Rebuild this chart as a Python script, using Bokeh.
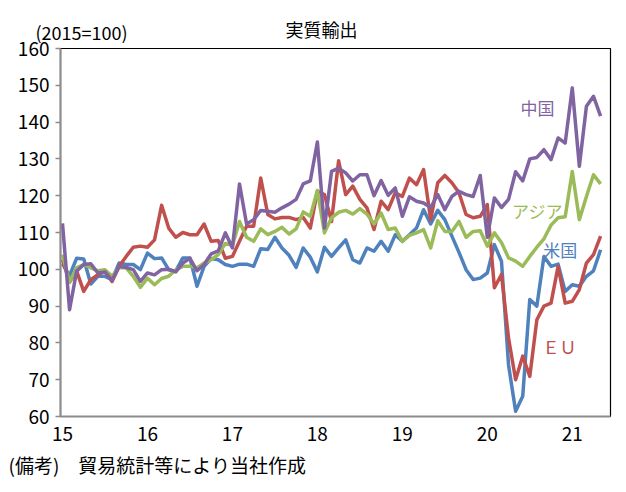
from bokeh.plotting import figure
from bokeh.layouts import column
from bokeh.models import Range1d, FixedTicker, Label
from bokeh.core.properties import value
from bokeh.embed import file_html
from bokeh.resources import INLINE

# Real exports index (2015 = 100), monthly, Jan 2015 - May 2021
year_labels = ["15", "16", "17", "18", "19", "20", "21"]

china = [112.5, 89.0, 99.5, 101.3, 101.5, 99.0, 99.3, 97.0, 100.8, 100.5, 99.9, 96.7,
         99.0, 98.5, 99.9, 100.0, 99.3, 101.7, 103.0, 99.6, 101.3, 104.2, 105.0, 109.9,
         105.8, 123.2, 112.3, 113.5, 116.0, 115.8, 115.5, 116.7, 117.7, 119.0, 123.2, 124.0,
         134.6, 111.2, 126.6, 127.5, 126.2, 124.0, 125.7, 125.7, 120.0, 124.1, 120.1, 122.1,
         114.4, 119.7, 118.5, 118.0, 116.8, 120.3, 116.2, 119.8, 121.2, 120.3, 119.8, 125.5,
         108.7, 119.4, 116.8, 119.0, 126.5, 124.0, 130.0, 130.4, 132.5, 129.8, 135.7, 134.3,
         149.3, 128.0, 144.3, 147.0, 141.6]

eu = [102.7, 96.5, 99.5, 94.0, 97.2, 98.5, 99.5, 96.7, 100.8, 103.5, 106.0, 106.3,
      106.0, 108.0, 117.4, 111.2, 108.7, 110.0, 109.4, 109.4, 112.3, 107.6, 107.8, 103.0,
      103.5, 107.6, 111.7, 111.7, 124.8, 114.9, 113.7, 114.1, 114.1, 113.5, 114.1, 111.2,
      121.2, 120.3, 113.0, 129.5, 120.3, 122.6, 119.0, 116.7, 110.8, 118.5, 116.2, 120.8,
      119.8, 124.8, 123.0, 127.1, 113.5, 123.5, 125.5, 123.5, 120.8, 114.9, 114.0, 114.4,
      117.6, 95.0, 98.6, 81.3, 70.0, 76.4, 70.9, 86.3, 90.0, 90.8, 100.8, 90.8,
      91.3, 94.5, 101.7, 104.0, 109.0]

us = [101.5, 98.3, 103.0, 102.8, 96.0, 98.1, 98.1, 97.2, 101.7, 101.3, 101.3, 99.9,
      104.4, 102.9, 103.1, 99.9, 99.5, 103.1, 103.1, 95.4, 100.8, 102.9, 102.6, 101.3,
      100.8, 101.4, 101.4, 100.8, 105.6, 105.4, 108.7, 105.8, 103.8, 100.5, 105.8, 103.3,
      99.3, 106.0, 103.5, 105.8, 108.0, 102.6, 101.7, 105.8, 104.9, 107.6, 104.9, 109.4,
      107.6, 109.4, 111.2, 116.2, 112.3, 116.0, 113.5, 109.0, 104.6, 99.9, 97.2, 97.6,
      99.0, 106.7, 102.2, 74.0, 61.4, 65.5, 91.8, 90.0, 103.5, 100.8, 101.4, 94.0,
      95.8, 95.4, 98.1, 99.6, 105.3]

asia = [104.0, 96.5, 100.4, 101.3, 100.4, 99.6, 99.9, 98.1, 100.5, 100.4, 98.1, 95.1,
        97.6, 95.8, 97.5, 98.1, 99.9, 100.8, 100.8, 100.4, 101.7, 102.6, 104.0, 107.0,
        106.5, 113.0, 108.7, 107.6, 111.0, 109.4, 110.3, 111.4, 109.6, 111.0, 115.6, 114.4,
        121.4, 109.9, 114.0, 115.5, 116.0, 115.0, 116.5, 115.0, 112.3, 115.3, 110.8, 111.2,
        107.6, 109.2, 109.9, 110.8, 105.8, 113.2, 110.3, 110.3, 113.0, 108.7, 110.3, 110.5,
        106.3, 109.9, 107.3, 103.1, 102.2, 100.8, 103.5, 106.0, 108.3, 112.0, 114.0, 114.3,
        126.6, 113.5, 119.8, 125.7, 123.2]

months = list(range(len(china)))

FONT = "Noto Sans CJK JP"
C_US = "#4F81BD"
C_EU = "#C0504D"
C_ASIA = "#9BBB59"
C_CHINA = "#8064A2"
AXIS_GREY = "#8c8c8c"
W = 626
HEAD_H = 48      # header strip
OVERLAP = 16     # the chart canvas starts this far inside the header (transparent there)
FOOT_H = 42


def text_strip(height):
    """A bare figure used only to carry header / footer text in pixel space."""
    f = figure(width=W, height=height, output_backend="svg", toolbar_location=None,
               x_range=Range1d(0, W), y_range=Range1d(0, height),
               x_axis_type=None, y_axis_type=None, min_border=0,
               frame_align=False)
    f.outline_line_color = None
    f.background_fill_color = "white"
    f.border_fill_color = "white"
    return f


# header: title and unit note (y measured upward from the strip's bottom)
head = text_strip(HEAD_H)
head.text(x=[321], y=[HEAD_H - 28], text=["実質輸出"], text_font=value(FONT),
          text_font_size="18px", text_align="center", text_baseline="middle",
          text_color="black")
head.text(x=[35], y=[HEAD_H - 31], text=["(2015=100)"], text_font=value(FONT),
          text_font_size="18px", text_align="left", text_baseline="middle",
          text_color="black")

# main chart: frame spans x 60..610, y 48..416 of the page
p = figure(width=W, height=450 - (HEAD_H - OVERLAP), output_backend="svg",
           toolbar_location=None, frame_align=False,
           x_range=Range1d(-0.28, 77.4), y_range=Range1d(60, 160),
           min_border_left=60, min_border_right=16,
           min_border_top=OVERLAP, min_border_bottom=34,
           margin=(-OVERLAP, 0, 0, 0))

p.background_fill_color = "white"
p.border_fill_color = None
p.outline_line_color = "black"
p.outline_line_width = 1.2
p.xgrid.visible = False
p.ygrid.visible = False

p.yaxis.ticker = FixedTicker(ticks=list(range(60, 161, 10)))
p.yaxis.axis_line_color = AXIS_GREY
p.yaxis.axis_line_width = 2
p.yaxis.major_tick_line_color = AXIS_GREY
p.yaxis.major_tick_line_width = 1.5
p.yaxis.major_tick_out = 5
p.yaxis.major_tick_in = 0
p.yaxis.minor_tick_out = 0
p.yaxis.minor_tick_in = 0
p.yaxis.major_label_text_font = FONT
p.yaxis.major_label_text_font_size = "19px"
p.yaxis.major_label_text_color = "black"
p.yaxis.major_label_standoff = 6

# x axis: one label per January
year_ticks = [12 * k for k in range(len(year_labels))]
p.xaxis.ticker = FixedTicker(ticks=year_ticks)
p.xaxis.major_label_overrides = {t: lab for t, lab in zip(year_ticks, year_labels)}
p.xaxis.axis_line_color = AXIS_GREY
p.xaxis.axis_line_width = 2
p.xaxis.major_tick_out = 0
p.xaxis.major_tick_in = 0
p.xaxis.minor_tick_out = 0
p.xaxis.minor_tick_in = 0
p.xaxis.major_label_text_font = FONT
p.xaxis.major_label_text_font_size = "19px"
p.xaxis.major_label_text_color = "black"
p.xaxis.major_label_standoff = 10

for series, color in [(us, C_US), (eu, C_EU), (asia, C_ASIA), (china, C_CHINA)]:
    p.line(months, series, line_color=color, line_width=3.5, line_join="round")

# series names next to their lines
for text, x, y, color in [("中国", 67.1, 144.0, C_CHINA),
                          ("アジア", 67.1, 116.0, C_ASIA),
                          ("米国", 70.3, 105.4, C_US),
                          ("ＥＵ", 70.2, 79.1, C_EU)]:
    p.add_layout(Label(x=x, y=y, text=text, text_color=color, text_font=FONT,
                       text_font_size="17px", text_align="center",
                       text_baseline="middle"))

# footer: source note
foot = text_strip(FOOT_H)
foot.text(x=[8], y=[FOOT_H - 14], text=["(備考)\u3000貿易統計等により当社作成"],
          text_font=value(FONT), text_font_size="19px", text_align="left",
          text_baseline="middle", text_color="black")

layout = column(head, p, foot, spacing=0)
open("out.html", "w").write(file_html(layout, INLINE))
